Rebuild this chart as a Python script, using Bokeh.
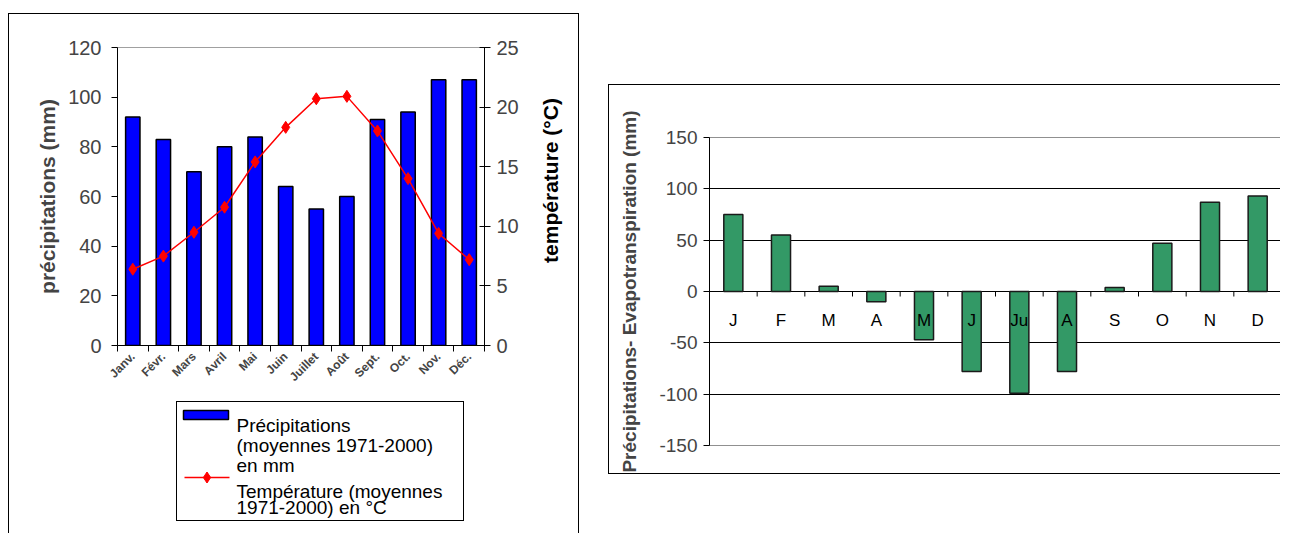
import math
from bokeh.plotting import figure
from bokeh.models import Range1d, LinearAxis, FixedTicker
from bokeh.core.properties import value
from bokeh.layouts import row, column
from bokeh.embed import file_html
from bokeh.resources import INLINE

# ---------------- data ----------------
months = ["Janv.", "Févr.", "Mars", "Avril", "Mai", "Juin", "Juillet", "Août",
          "Sept.", "Oct.", "Nov.", "Déc."]
precip = [92, 83, 70, 80, 84, 64, 55, 60, 91, 94, 107, 107]
temp = [6.4, 7.5, 9.5, 11.6, 15.4, 18.3, 20.7, 20.9, 18.0, 14.0, 9.4, 7.2]
bal_labels = ["J", "F", "M", "A", "M", "J", "Ju", "A", "S", "O", "N", "D"]
balance = [75, 55, 5, -10, -47, -78, -99, -78, 4, 47, 87, 93]

precip_ticks = [0, 20, 40, 60, 80, 100, 120]
temp_ticks = [0, 5, 10, 15, 20, 25]
bal_ticks = [-150, -100, -50, 0, 50, 100, 150]

temp_title = ["température (°C)"]
legend_precip_lines = ["Précipitations", "(moyennes 1971-2000)", "en mm"]
legend_temp_lines = ["Température (moyennes", "1971-2000) en °C"]

FONT = "Liberation Sans"
xs = list(range(1, len(months) + 1))
bounds = [i + 0.5 for i in range(0, len(months) + 1)]

BLUE = "#0000ff"
RED = "#ff0000"
GREEN = "#339966"

# ---------------- left chart ----------------
p1 = figure(width=530, height=381, output_backend="svg", toolbar_location=None,
            x_range=Range1d(0.5, 12.5), y_range=Range1d(0, 120),
            min_border_left=108, min_border_right=55, min_border_top=33,
            min_border_bottom=50)
p1.frame_align = False
p1.extra_y_ranges = {"temp": Range1d(0, 25)}
p1.outline_line_color = "#a0a0a0"
p1.xgrid.visible = False
p1.ygrid.visible = False

p1.vbar(x=xs, top=precip, width=0.47, bottom=0, fill_color=BLUE,
        line_color="black", line_width=1.5)
p1.line(x=xs, y=temp, y_range_name="temp", line_color=RED, line_width=1.5)
p1.scatter(x=xs, y=temp, y_range_name="temp", marker="diamond", size=12,
           fill_color=RED, line_color=RED)

yax = p1.yaxis[0]
yax.ticker = FixedTicker(ticks=precip_ticks)
yax.axis_label = "précipitations (mm)"
yax.axis_label_text_font = FONT
yax.axis_label_text_font_style = "bold"
yax.axis_label_text_font_size = "21px"
yax.axis_label_standoff = 6
yax.major_label_text_font = FONT
yax.major_label_text_font_size = "20px"
yax.major_label_standoff = 10
yax.major_tick_out = 6
yax.major_tick_in = 0
yax.minor_tick_line_color = None
yax.axis_line_color = "black"
yax.major_tick_line_color = "black"

rax = LinearAxis(y_range_name="temp", ticker=FixedTicker(ticks=temp_ticks))
rax.major_label_text_font = FONT
rax.major_label_text_font_size = "20px"
rax.major_label_standoff = 6
rax.major_tick_out = 6
rax.major_tick_in = 5
rax.minor_tick_line_color = None
p1.add_layout(rax, "right")

xax = p1.xaxis[0]
xax.ticker = FixedTicker(ticks=xs, minor_ticks=bounds)
xax.major_label_overrides = {x: m for x, m in zip(xs, months)}
xax.major_label_orientation = math.pi / 4
xax.major_label_text_font = FONT
xax.major_label_text_font_style = "bold"
xax.major_label_text_font_size = "12px"
xax.major_label_standoff = 3
xax.major_tick_line_color = None
xax.major_tick_out = 0
xax.major_tick_in = 0
xax.minor_tick_line_color = "black"
xax.minor_tick_out = 6
xax.minor_tick_in = 0
xax.axis_line_color = "black"

# narrow strip to the right holding the temperature-axis title (reads bottom-to-top)
ptitle = figure(width=39, height=381, output_backend="svg", toolbar_location=None,
                x_range=Range1d(0, 39), y_range=Range1d(0, 381), min_border=0)
ptitle.frame_align = False
ptitle.axis.visible = False
ptitle.grid.visible = False
ptitle.outline_line_color = None
ptitle.text(x=[11], y=[215], text=temp_title, angle=math.pi / 2,
            text_align="center", text_baseline="middle", text_font=value(FONT),
            text_font_style="bold", text_font_size="21px", text_color="black")

# ---------------- legend box (own small canvas, pixel coordinates) ----------------
pleg = figure(width=288, height=120, output_backend="svg", toolbar_location=None,
              x_range=Range1d(0, 288), y_range=Range1d(120, 0),
              min_border=0, margin=(6, 0, 12, 167),
              styles={"border": "1px solid black"})
pleg.frame_align = False
pleg.axis.visible = False
pleg.grid.visible = False
pleg.outline_line_color = None

pleg.quad(left=[6], right=[51], top=[8], bottom=[17], fill_color=BLUE,
          line_color="black", line_width=1.5)
pleg.line(x=[7, 52], y=[75, 75], line_color=RED, line_width=1.5)
pleg.scatter(x=[29.5], y=[75], marker="diamond", size=11, fill_color=RED, line_color=RED)
pleg.text(x=[59] * 3, y=[23, 43, 63], text=legend_precip_lines,
          text_baseline="alphabetic", text_font=value(FONT), text_font_size="19px",
          text_color="black")
pleg.text(x=[59] * 2, y=[89, 105], text=legend_temp_lines,
          text_baseline="alphabetic", text_font=value(FONT), text_font_size="19px",
          text_color="black")

left_panel = column(row(p1, ptitle), pleg, margin=(13, 0, 0, 8),
                    styles={"border": "1px solid black", "border-bottom": "none"})

# ---------------- right chart ----------------
p2 = figure(width=672, height=390, output_backend="svg", toolbar_location=None,
            x_range=Range1d(0.5, 12.5), y_range=Range1d(-150, 150),
            min_border_left=100, min_border_right=0, min_border_top=52,
            min_border_bottom=30, margin=(84, 0, 0, 29),
            styles={"border": "1px solid black", "border-right": "none"})
p2.frame_align = False
p2.outline_line_color = "#909090"
p2.xgrid.visible = False
p2.xaxis.visible = False
p2.ygrid.ticker = FixedTicker(ticks=bal_ticks)
p2.ygrid.grid_line_color = "black"
p2.ygrid.grid_line_width = 1

p2.vbar(x=xs, top=balance, bottom=0, width=0.4, fill_color=GREEN,
        line_color="#1a1a1a", line_width=1.5)

# category boundary ticks hanging below the zero line, and month letters
zeros_b = [0] * len(bounds)
p2.ray(x=bounds, y=zeros_b, length=5, length_units="screen", angle=-math.pi / 2,
       line_color="black", line_width=1)
zeros_m = [0] * len(xs)
p2.text(x=xs, y=zeros_m, text=bal_labels, text_align="center", text_baseline="top",
        y_offset=19, text_font_size="17px", text_color="black",
        text_font=value(FONT))

ay = p2.yaxis[0]
ay.ticker = FixedTicker(ticks=bal_ticks)
ay.major_label_overrides = {t: str(t) for t in bal_ticks}
ay.axis_label = "Précipitations- Evapotranspiration (mm)"
ay.axis_label_text_font = FONT
ay.axis_label_text_font_style = "bold"
ay.axis_label_text_font_size = "19px"
ay.axis_label_standoff = 16
ay.major_label_text_font = FONT
ay.major_label_text_font_size = "19px"
ay.major_label_standoff = 6
ay.major_tick_out = 6
ay.major_tick_in = 0
ay.minor_tick_line_color = None
ay.axis_line_color = "black"

layout = row(left_panel, p2)
open("out.html", "w").write(file_html(layout, INLINE))
